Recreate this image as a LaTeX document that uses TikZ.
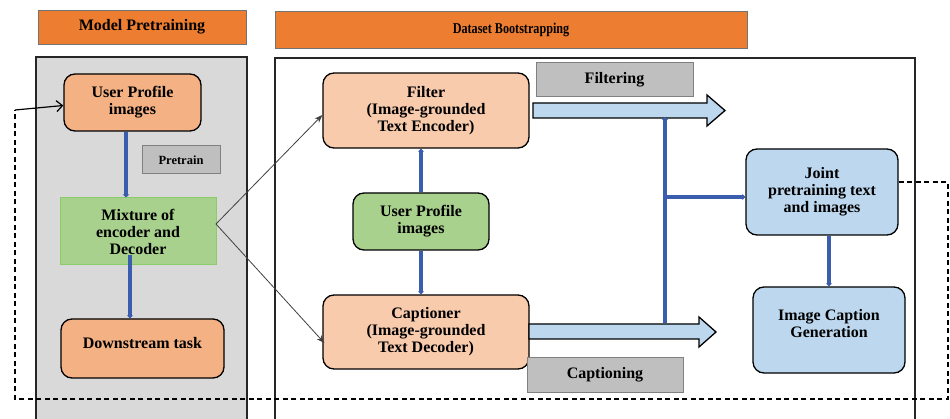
\documentclass[tikz,border=0pt]{standalone}
\usepackage{fontspec}
\setmainfont{Liberation Serif}
\usetikzlibrary{arrows.meta,calc}
\definecolor{hdr}{HTML}{ED7D31}
\definecolor{panelgray}{HTML}{D9D9D9}
\definecolor{orA}{HTML}{F4B183}
\definecolor{orB}{HTML}{F8CBAD}
\definecolor{grn}{HTML}{A9D18E}
\definecolor{grnb}{HTML}{8CCB6A}
\definecolor{tagg}{HTML}{BFBFBF}
\definecolor{lblue}{HTML}{BDD7EE}
\definecolor{dblue}{HTML}{3A5DAE}
\begin{document}
\begin{tikzpicture}[x=1pt,y=-1pt,
  txt/.style={font=\bfseries\fontsize{16}{17}\selectfont,align=center,text=black},
  header/.style={draw=black!55,line width=0.8pt,fill=hdr,inner sep=0pt},
  rbox/.style={txt,draw=black,line width=1.3pt,rounded corners=11pt,inner sep=0pt},
  tagbox/.style={txt,draw=black!50,line width=1pt,fill=tagg,inner sep=0pt},
  bluearr/.style={draw=dblue,line width=4pt,-{Triangle[length=3pt,width=6pt]}},
  thinarr/.style={draw=black!75,line width=0.8pt,-{Stealth[length=8pt,width=6pt]}},
  bigarr/.style={draw=black,line width=1.3pt,fill=lblue,line join=miter},
  dsh/.style={draw=black,line width=1.3pt,dash pattern=on 5pt off 3.5pt}
]
\useasboundingbox (0,0) rectangle (950,419);
% headers
\node[header,txt,minimum width=208pt,minimum height=34pt] (h1) at (142,27) {Model Pretraining};
\node[header,txt,minimum width=472pt,minimum height=37pt,font=\bfseries\fontsize{15}{16}\selectfont] (h2) at (511,29.5) {\scalebox{0.81}[1]{Dataset Bootstrapping}};
% panels
\path[draw=black!85,line width=1.3pt,fill=panelgray] (36,57) rectangle (247,430);
\path[draw=black!85,line width=1.3pt,fill=white] (275,58) rectangle (915,430);
% left panel nodes
\node[rbox,fill=orA,minimum width=137pt,minimum height=57pt] (up1) at (132.5,102.5) {User Profile\\images};
\node[tagbox,minimum width=78pt,minimum height=28pt,font=\bfseries\fontsize{12.5}{13}\selectfont] (pre) at (181,160) {Pretrain};
\node[txt,draw=grnb,line width=1pt,fill=grn,minimum width=156pt,minimum height=67pt,inner sep=0pt] (mix) at (138,231.5) {Mixture of\\encoder and\\Decoder};
\node[rbox,fill=orA,minimum width=163pt,minimum height=59pt,
  label={[txt,yshift=5.5pt]center:Downstream task}] (down) at (142.5,348.5) {};
% right panel nodes
\node[rbox,fill=orB,minimum width=206pt,minimum height=75pt] (filter) at (426,110.5) {Filter\\(Image-grounded\\Text Encoder)};
\node[tagbox,minimum width=157pt,minimum height=34pt] (filtering) at (614.5,80) {Filtering};
\node[rbox,fill=grn,minimum width=136pt,minimum height=57pt] (up2) at (421,221.5) {User Profile\\images};
\node[rbox,fill=orB,minimum width=206pt,minimum height=74pt] (capt) at (426,332) {Captioner\\(Image-grounded\\Text Decoder)};
\node[tagbox,minimum width=156pt,minimum height=34pt] (captioning) at (605,375) {Captioning};
\node[rbox,fill=lblue,minimum width=152pt,minimum height=86pt] (joint) at (822,192) {Joint\\pretraining text\\and images};
\node[rbox,fill=lblue,minimum width=152pt,minimum height=86pt,
  label={[txt,yshift=6pt]center:Image Caption\\Generation}] (icg) at (829,330) {};
% big hollow arrows
\path[bigarr] (533,103) -- (707,103) -- (707,95) -- (725,110.5) -- (707,126) -- (707,118) -- (533,118) -- cycle;
\path[bigarr] (529,324) -- (699,324) -- (699,317) -- (716,332) -- (699,347) -- (699,339) -- (529,339) -- cycle;
% blue connectors
\draw[bluearr] ([xshift=-6.5pt]up1.south) -- ([xshift=-6.5pt]up1.south |- mix.north);
\draw[bluearr] ([xshift=-8pt,yshift=10pt]mix.south) -- ([xshift=-8pt]mix.south |- down.north);
\draw[bluearr] (up2.north) -- (up2.north |- filter.south);
\draw[bluearr] (up2.south) -- (up2.south |- capt.north);
\coordinate (vb) at (665,323);
\coordinate (vt) at (665,117);
\coordinate (vj) at (665,197);
\draw[bluearr] (vb) -- (vt);
\draw[bluearr,line width=3.5pt] (vj) -- (vj -| joint.west);
\draw[bluearr] (icg.north |- joint.south) -- (icg.north);
% thin diagonal arrows
\coordinate (ms) at (216,224);
\draw[thinarr] (ms) -- ([yshift=-4.5pt]filter.west);
\draw[thinarr] (ms) -- ([xshift=2pt,yshift=-11pt]capt.west);
% dashed feedback loop
\coordinate (lc) at (15,110);
\draw[dsh] ([yshift=10pt]joint.east) -- (948,182) -- (948,399) -- (15,399) -- (lc);
\draw[line width=1.2pt,-{Straight Barb[length=6pt,width=11pt]}] (lc) -- ([yshift=-3pt]up1.west);
\end{tikzpicture}
\end{document}
